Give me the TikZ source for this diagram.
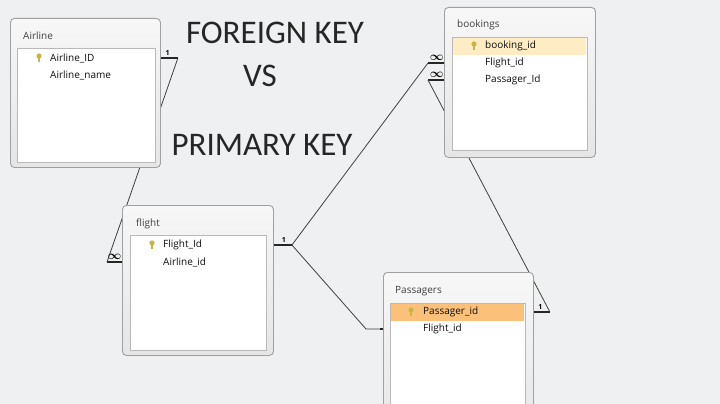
\documentclass[tikz,border=0pt]{standalone}
\usepackage{fontspec}
\setmainfont{Open Sans}
\newfontfamily\titlefont{Carlito}
\usetikzlibrary{calc}
\definecolor{canvas}{HTML}{EEF0F2}
\definecolor{panelline}{HTML}{A0A0A0}
\definecolor{keyrow}{HTML}{FDECC4}
\definecolor{keyrowhot}{HTML}{FBC07A}
\definecolor{bulb}{HTML}{C8B545}
\pgfdeclarelayer{back}
\pgfdeclarelayer{links}
\pgfsetlayers{back,links,main}
\tikzset{
  panel/.style={draw=panelline, line width=0.9pt, rounded corners=4pt, top color=white!97!black, bottom color=white!90!black, anchor=north west, inner sep=0pt},
  fields/.style={draw=gray!55, line width=0.8pt, fill=white, anchor=north west, inner sep=0pt},
  keyband/.style={anchor=north west, inner sep=0pt, minimum height=17pt},
  caption/.style={anchor=west, inner sep=0pt, text=black!75, font=\fontsize{10}{12}\selectfont},
  field/.style={anchor=west, inner sep=0pt, text=black!95, font=\fontsize{10}{12}\selectfont},
  stub/.style={line width=2.4pt, black!85},
  link/.style={line width=0.8pt, black!75},
  card/.style={anchor=south, inner sep=0pt, font=\bfseries\fontsize{7}{7}\selectfont},
  many/.style={anchor=south, inner sep=0pt, font=\boldmath\fontsize{12}{12}\selectfont},
  big/.style={text=black!85, font=\titlefont\fontsize{33}{36}\selectfont},
  bulb/.pic={\fill[bulb] (0,-2) circle (2.6); \fill[bulb] (-1.3,-1) rectangle (1.3,4);}
}
\begin{document}
\begin{tikzpicture}[x=1pt, y=-1pt]
\useasboundingbox (0,0) rectangle (720,404);
\begin{pgfonlayer}{back}
\fill[canvas] (0,0) rectangle (720,404);
\end{pgfonlayer}

\node[big] (foreign) at (275,33) {FOREIGN KEY};
\node[big] (versus) at (260,75.5) {VS};
\node[big] (primary) at (262,145) {PRIMARY KEY};

\node[panel, minimum width=150pt, minimum height=149pt] (airline) at (10,18) {};
\node[fields, minimum width=138pt, minimum height=114pt] (airlinelist) at (17,48) {};
\node[caption] (airlinecap) at (23,36) {Airline};
\pic at (39,58) {bulb};
\node[field] (airlineid) at (50,58) {Airline\_ID};
\node[field] (airlinename) at (50,75) {Airline\_name};

\node[panel, minimum width=151pt, minimum height=150pt] (flight) at (122,205) {};
\node[fields, minimum width=136pt, minimum height=115pt] (flightlist) at (130,235) {};
\node[caption] (flightcap) at (136,224) {flight};
\pic at (152,245) {bulb};
\node[field] (flightid) at (163,245) {Flight\_Id};
\node[field] (flightairline) at (163,262) {Airline\_id};

\node[panel, minimum width=151pt, minimum height=150pt] (bookings) at (444,7) {};
\node[fields, minimum width=135pt, minimum height=113pt] (bookingslist) at (452,37) {};
\node[keyband, fill=keyrow, minimum width=133pt] (bookingsrow) at (453,38) {};
\node[caption] (bookingscap) at (457,25) {bookings};
\pic at (474,46) {bulb};
\node[field] (bookid) at (485,46) {booking\_id};
\node[field] (bookflight) at (485,63) {Flight\_id};
\node[field] (bookpass) at (485,80) {Passager\_Id};

\node[panel, minimum width=150pt, minimum height=170pt] (passagers) at (383,272) {};
\node[fields, minimum width=135pt, minimum height=130pt] (passagerslist) at (390,303) {};
\node[keyband, fill=keyrowhot, minimum width=133pt] (passagersrow) at (391,304) {};
\node[caption] (passagerscap) at (395,291) {Passagers};
\pic at (411,312) {bulb};
\node[field] (passid) at (423,312) {Passager\_id};
\node[field] (passflight) at (423,329) {Flight\_id};

\coordinate (a1) at ($(airline.east |- airlineid)+(17,0)$);
\coordinate (f1) at ($(flight.west |- flightairline)+(-15,0)$);
\coordinate (f2) at ($(flight.east |- flightid)+(18,0)$);
\coordinate (b1) at ($(bookings.west |- bookflight)+(-16,0)$);
\coordinate (b2) at ($(bookings.west |- bookpass)+(-16,0)$);
\coordinate (p1) at ($(passagers.east |- passid)+(16,0)$);
\coordinate (p2) at ($(passagers.west |- passflight)+(-3,0)$);
\coordinate (p3) at ($(passagers.west |- passflight)+(-17,0)$);

\begin{pgfonlayer}{links}
\draw[stub] (airline.east |- airlineid) -- (a1);
\draw[stub] (flight.west |- flightairline) -- (f1);
\draw[stub] (flight.east |- flightid) -- (f2);
\draw[stub] (bookings.west |- bookflight) -- (b1);
\draw[stub] (bookings.west |- bookpass) -- (b2);
\draw[stub] (passagers.east |- passid) -- (p1);
\draw[stub] (passagers.west |- passflight) -- (p2);
\draw[link] (a1) -- (f1);
\draw[link] (f2) -- (b1);
\draw[link] (b2) -- (p1);
\draw[link] (f2) -- (p3) -- (p2);
\end{pgfonlayer}

\node[card] (a1lab) at ($(airline.east |- airlineid)!0.4!(a1)+(0,-2.5)$) {1};
\node[many] (f1lab) at ($(flight.west |- flightairline)!0.5!(f1)+(0,-2)$) {$\infty$};
\node[card] (f2lab) at ($(flight.east |- flightid)!0.55!(f2)+(0,-2.5)$) {1};
\node[many] (b1lab) at ($(bookings.west |- bookflight)!0.45!(b1)+(0,-2)$) {$\infty$};
\node[many] (b2lab) at ($(bookings.west |- bookpass)!0.45!(b2)+(0,-2)$) {$\infty$};
\node[card] (p1lab) at ($(passagers.east |- passid)!0.4!(p1)+(0,-2.5)$) {1};
\end{tikzpicture}
\end{document}
